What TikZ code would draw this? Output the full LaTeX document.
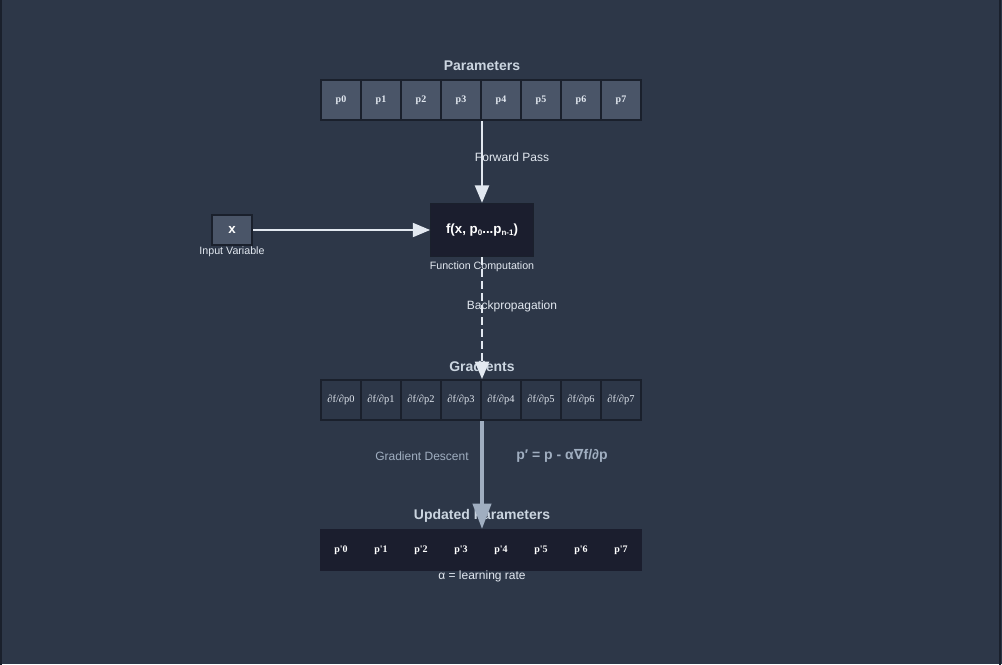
\documentclass[tikz,border=0pt]{standalone}
\usepackage{fontspec}
\setmainfont{Liberation Sans}
\newfontfamily\cellfont{Liberation Serif}
\newfontfamily\symfont{DejaVu Sans}
\usetikzlibrary{arrows.meta}

\definecolor{bgcol}{HTML}{2D3748}
\definecolor{edgecol}{HTML}{1A202C}
\definecolor{cellcol}{HTML}{4A5568}
\definecolor{funccol}{HTML}{1B1E2E}
\definecolor{linecol}{HTML}{E2E8F0}
\definecolor{titlecol}{HTML}{CBD5E0}
\definecolor{graycol}{HTML}{A0AEC0}

\newcommand{\lowsub}[1]{\raisebox{-0.35ex}{\fontsize{6pt}{6pt}\selectfont #1}}

\tikzset{
  cell/.style={draw=edgecol, line width=1.5pt, minimum width=30pt, minimum height=30pt,
    inner sep=0pt, text=linecol, font=\cellfont\bfseries\fontsize{7.5pt}{8pt}\selectfont},
  title/.style={text=titlecol, font=\bfseries\fontsize{10.5pt}{12pt}\selectfont},
  lbl/.style={text=linecol, font=\fontsize{9pt}{10pt}\selectfont},
  small/.style={text=linecol, font=\fontsize{8pt}{9pt}\selectfont},
  flow/.style={draw=linecol, line width=1.5pt, -{Triangle[width=10.5pt,length=13pt]}}
}

\begin{document}
\begin{tikzpicture}[x=0.75pt, y=-0.75pt]
\useasboundingbox (0,0) rectangle (1002,664);
\fill[bgcol] (0,0) rectangle (1002,664);
\draw[edgecol, line width=1.5pt] (1,-5) -- (1,669);
\draw[edgecol, line width=1.5pt] (1000,-5) -- (1000,669);

% Parameters
\node[title] (partitle) at (482,66) {Parameters};
\foreach \i in {0,...,7}
  \node[cell, fill=cellcol] (p\i) at (341+40*\i,100) {p\i};

% Function
\node[draw=edgecol, fill=funccol, line width=0.8pt, minimum width=77pt, minimum height=40pt,
  text=white, font=\bfseries\fontsize{10pt}{12pt}\selectfont] (func) at (482,230)
  {f(x, p\lowsub{0}...p\lowsub{n-1})};
\node[small] (funclbl) at (482,267) {Function Computation};
\draw[flow] (p3.south east) -- (func.north);
\node[lbl] (fwd) at (512,157) {Forward Pass};

% Input
\node[draw=edgecol, fill=cellcol, line width=2pt, minimum width=30pt, minimum height=22.5pt,
  text=white, font=\bfseries\fontsize{10pt}{12pt}\selectfont] (input) at (232,230) {x};
\node[small] (inlbl) at (232,252) {Input Variable};
\draw[flow] (input) -- (func);

% Gradients
\node[title] (gradtitle) at (482,366) {Gradients};
\foreach \i in {0,...,7}
  \node[cell, fill=bgcol, font=\cellfont\fontsize{7.8pt}{8pt}\selectfont] (g\i) at (341+40*\i,400) {∂f/∂p\i};
\draw[flow, dashed, dash pattern=on 6pt off 3pt] (func.south) -- (g3.north east);
\node[lbl] (back) at (512,306) {Backpropagation};

% Updated Parameters
\node[title] (updtitle) at (482,516) {Updated Parameters};
\foreach \i in {0,...,7}
  \node[cell, draw=funccol, fill=funccol, text=white] (u\i) at (341+40*\i,550) {p'\i};
\node[small, font=\fontsize{9pt}{10pt}\selectfont] (alpha) at (482,576) {α = learning rate};
\draw[draw=graycol, line width=3pt, -{Triangle[width=13.5pt,length=19pt]}] (g3.south east) -- (u3.north east);
\node[lbl, text=graycol] (gd) at (422,456) {Gradient Descent};
\node[text=graycol, font=\bfseries\fontsize{10.5pt}{12pt}\selectfont] (rule) at (562,456)
  {p′ = p - α{\symfont ∇}f/∂p};
\end{tikzpicture}
\end{document}
